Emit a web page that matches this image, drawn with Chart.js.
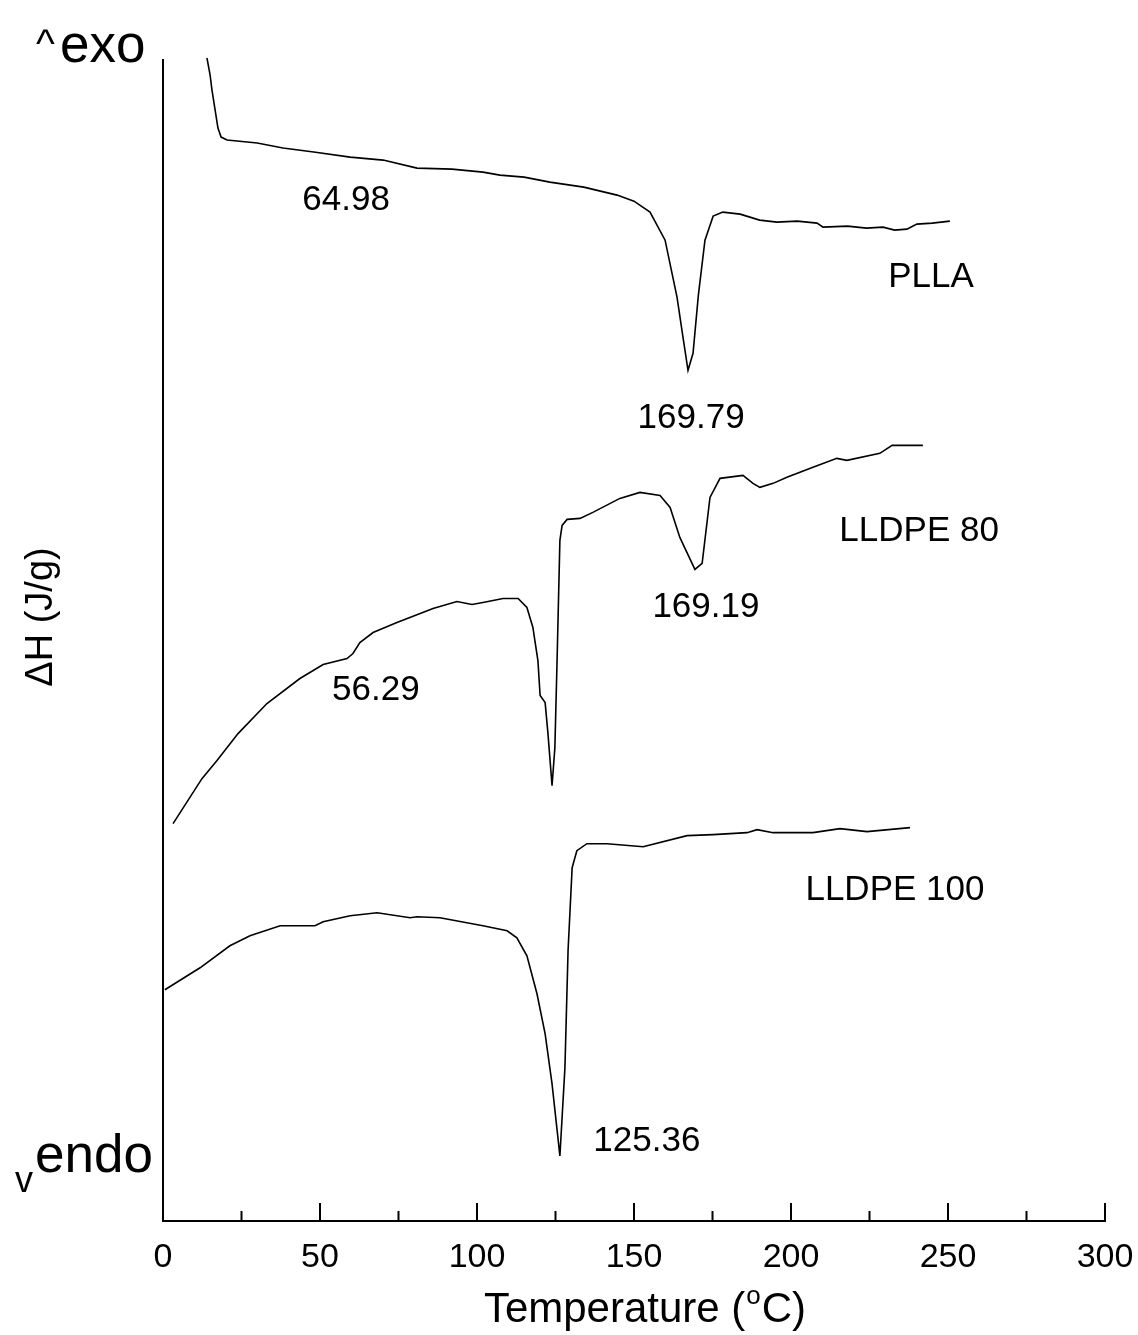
<!DOCTYPE html>
<html><head><meta charset="utf-8">
<script src="https://cdn.jsdelivr.net/npm/chart.js@4.4.0/dist/chart.umd.min.js"></script>
<style>html,body{margin:0;padding:0;background:#fff}#wrap{width:1138px;height:1335px;position:relative}</style>
</head><body><div id="wrap"><canvas id="c"></canvas></div>
<script>
// Temperature (°C) and heat flow (arbitrary units, curves stacked)
const pllaT = [14.0,15.0,15.6,16.6,17.5,18.5,20.4,30,38.2,48,59.6,70.1,80.9,92,101.9,107.3,115,123.2,134,144.6,150,155.1,159.9,163.7,165.5,167.2,168.8,170.5,172.6,175.2,178.3,183.8,190,195.5,202,208.3,210.2,218,224,229.3,233,236.9,240.1,245,250.6];
const pllaH = [116.2,114.5,113.0,111.0,109.2,108.3,108.0,107.7,107.2,106.8,106.3,106.0,105.2,105.1,104.8,104.5,104.3,103.8,103.3,102.5,101.9,100.8,98.0,92.3,88.5,85.0,86.7,92.5,98.0,100.4,100.8,100.6,100.0,99.8,99.9,99.7,99.3,99.4,99.2,99.3,99.0,99.1,99.6,99.7,99.9];

const l80T = [3.2,12.4,17.2,23.9,33.1,43.6,51.0,58.6,60.5,62.7,66.9,74.5,86.0,93.6,98.4,101.9,108.3,113.1,115.9,117.8,119.4,120.1,121.7,122.6,123.9,124.8,125.5,126.4,127.1,128.7,132.8,136.9,145.5,151.9,158.3,161.5,164.6,169.4,171.7,174.2,177.4,184.7,187.9,190.1,194.3,198.7,207.0,214.6,217.8,228.3,232.2,242.0];
const l80H = [39.7,44.2,46.0,48.7,51.7,54.2,55.6,56.2,56.7,57.8,58.8,59.8,61.2,61.9,61.6,61.8,62.2,62.2,61.3,59.3,56.0,52.5,51.8,48.7,43.5,47.3,56.0,68.0,69.5,70.1,70.2,70.8,72.2,72.8,72.5,71.3,68.3,65.1,65.7,72.3,74.2,74.5,73.7,73.3,73.7,74.3,75.3,76.2,76.0,76.7,77.5,77.5];

const l100T = [0.6,11.8,21.3,27.7,37.3,48.4,51.0,59.6,68.2,78.7,80.9,88.2,101.9,109.6,112.7,115.9,119.1,121.7,123.9,126.4,128.0,129.0,130.3,131.8,135.0,141.4,152.9,166.9,175.2,186.0,189.2,194.3,207.0,215.6,224.2,237.9];
const l100H = [23.1,25.3,27.5,28.5,29.5,29.5,29.9,30.5,30.8,30.3,30.4,30.3,29.5,29.0,28.3,26.5,22.7,18.7,13.7,6.5,15.3,27.0,35.3,37.0,37.7,37.7,37.4,38.5,38.6,38.8,39.1,38.8,38.8,39.2,38.9,39.3];

const majorTicks = [0,50,100,150,200,250,300];
const minorTicks = [25,75,125,175,225,275];

const labelTexts = ['64.98','PLLA','169.79','LLDPE 80','169.19','56.29','LLDPE 100','125.36'];
const labelT = [58.3,244.6,168.2,240.8,172.9,67.8,233.1,154.1];
const labelH = [102.0,94.3,80.2,68.9,61.3,53.0,33.0,8.0];

function pts(T,H){return T.map((t,i)=>({x:t,y:H[i]}));}

const FONT = "'Liberation Sans', Arial, sans-serif";

const decor = {
  id:'decor',
  afterDraw(chart){
    const ctx = chart.ctx, x = chart.scales.x, y = chart.scales.y;
    const base = chart.chartArea.bottom;
    ctx.save();
    ctx.strokeStyle = '#000'; ctx.lineWidth = 2;
    ctx.beginPath();
    majorTicks.forEach(v=>{const p=x.getPixelForValue(v); ctx.moveTo(p,base); ctx.lineTo(p,base-18);});
    minorTicks.forEach(v=>{const p=x.getPixelForValue(v); ctx.moveTo(p,base); ctx.lineTo(p,base-10);});
    ctx.stroke();
    ctx.fillStyle = '#000';
    ctx.font = '35px ' + FONT;
    ctx.textAlign = 'center'; ctx.textBaseline = 'middle';
    labelTexts.forEach((s,i)=>ctx.fillText(s, x.getPixelForValue(labelT[i]), y.getPixelForValue(labelH[i])));
    // exo / endo markers
    ctx.textAlign = 'left'; ctx.textBaseline = 'alphabetic';
    ctx.font = '40px ' + FONT;
    ctx.fillText('^', 36, 57);
    ctx.font = '53px ' + FONT;
    ctx.fillText('exo', 60, 62);
    ctx.font = '36px ' + FONT;
    ctx.fillText('v', 15, 1192);
    ctx.font = '53px ' + FONT;
    ctx.fillText('endo', 35, 1172);
    // y axis title
    ctx.save();
    ctx.translate(42, 617);
    ctx.rotate(-Math.PI/2);
    ctx.textAlign = 'center'; ctx.textBaseline = 'middle';
    ctx.font = '38px ' + FONT;
    ctx.fillText('ΔH (J/g)', 0, 0);
    ctx.restore();
    // x axis title with superscript o
    const f1 = '42px ' + FONT, f2 = '26px ' + FONT;
    ctx.font = f1; const w1 = ctx.measureText('Temperature (').width, w3 = ctx.measureText('C)').width;
    ctx.font = f2; const w2 = ctx.measureText('o').width + 2;
    const total = w1 + w2 + w3;
    let sx = 645 - total/2; const by = 1322;
    ctx.textAlign = 'left';
    ctx.font = f1; ctx.fillText('Temperature (', sx, by);
    ctx.font = f2; ctx.fillText('o', sx + w1 + 1, by - 18);
    ctx.font = f1; ctx.fillText('C)', sx + w1 + w2, by);
    ctx.restore();
  }
};

const lineStyle = {borderColor:'#000',backgroundColor:'#000',borderWidth:1.6,pointRadius:0,tension:0,fill:false,clip:false};

new Chart(document.getElementById('c'), {
  type:'line',
  data:{datasets:[
    Object.assign({label:'PLLA', data:pts(pllaT,pllaH)}, lineStyle),
    Object.assign({label:'LLDPE 80', data:pts(l80T,l80H)}, lineStyle),
    Object.assign({label:'LLDPE 100', data:pts(l100T,l100H)}, lineStyle)
  ]},
  options:{
    responsive:true, maintainAspectRatio:false, animation:false, devicePixelRatio:1,
    layout:{padding:{top:60,right:33,left:0,bottom:0}},
    plugins:{legend:{display:false},tooltip:{enabled:false}},
    scales:{
      x:{type:'linear',position:'bottom',min:0,max:300,
        afterFit(s){s.height=114; s.paddingLeft=0; s.paddingRight=0;},
        grid:{display:false,drawTicks:false},
        border:{display:true,color:'#000',width:2},
        ticks:{stepSize:50,color:'#000',padding:16,maxRotation:0,autoSkip:false,font:{family:FONT,size:34}},
        title:{display:false}
      },
      y:{type:'linear',min:0,max:116,
        afterFit(s){s.width=163; s.paddingTop=0; s.paddingBottom=0;},
        grid:{display:false,drawTicks:false},
        border:{display:true,color:'#000',width:2},
        ticks:{display:false},
        title:{display:false}
      }
    }
  },
  plugins:[decor]
});
</script></body></html>
